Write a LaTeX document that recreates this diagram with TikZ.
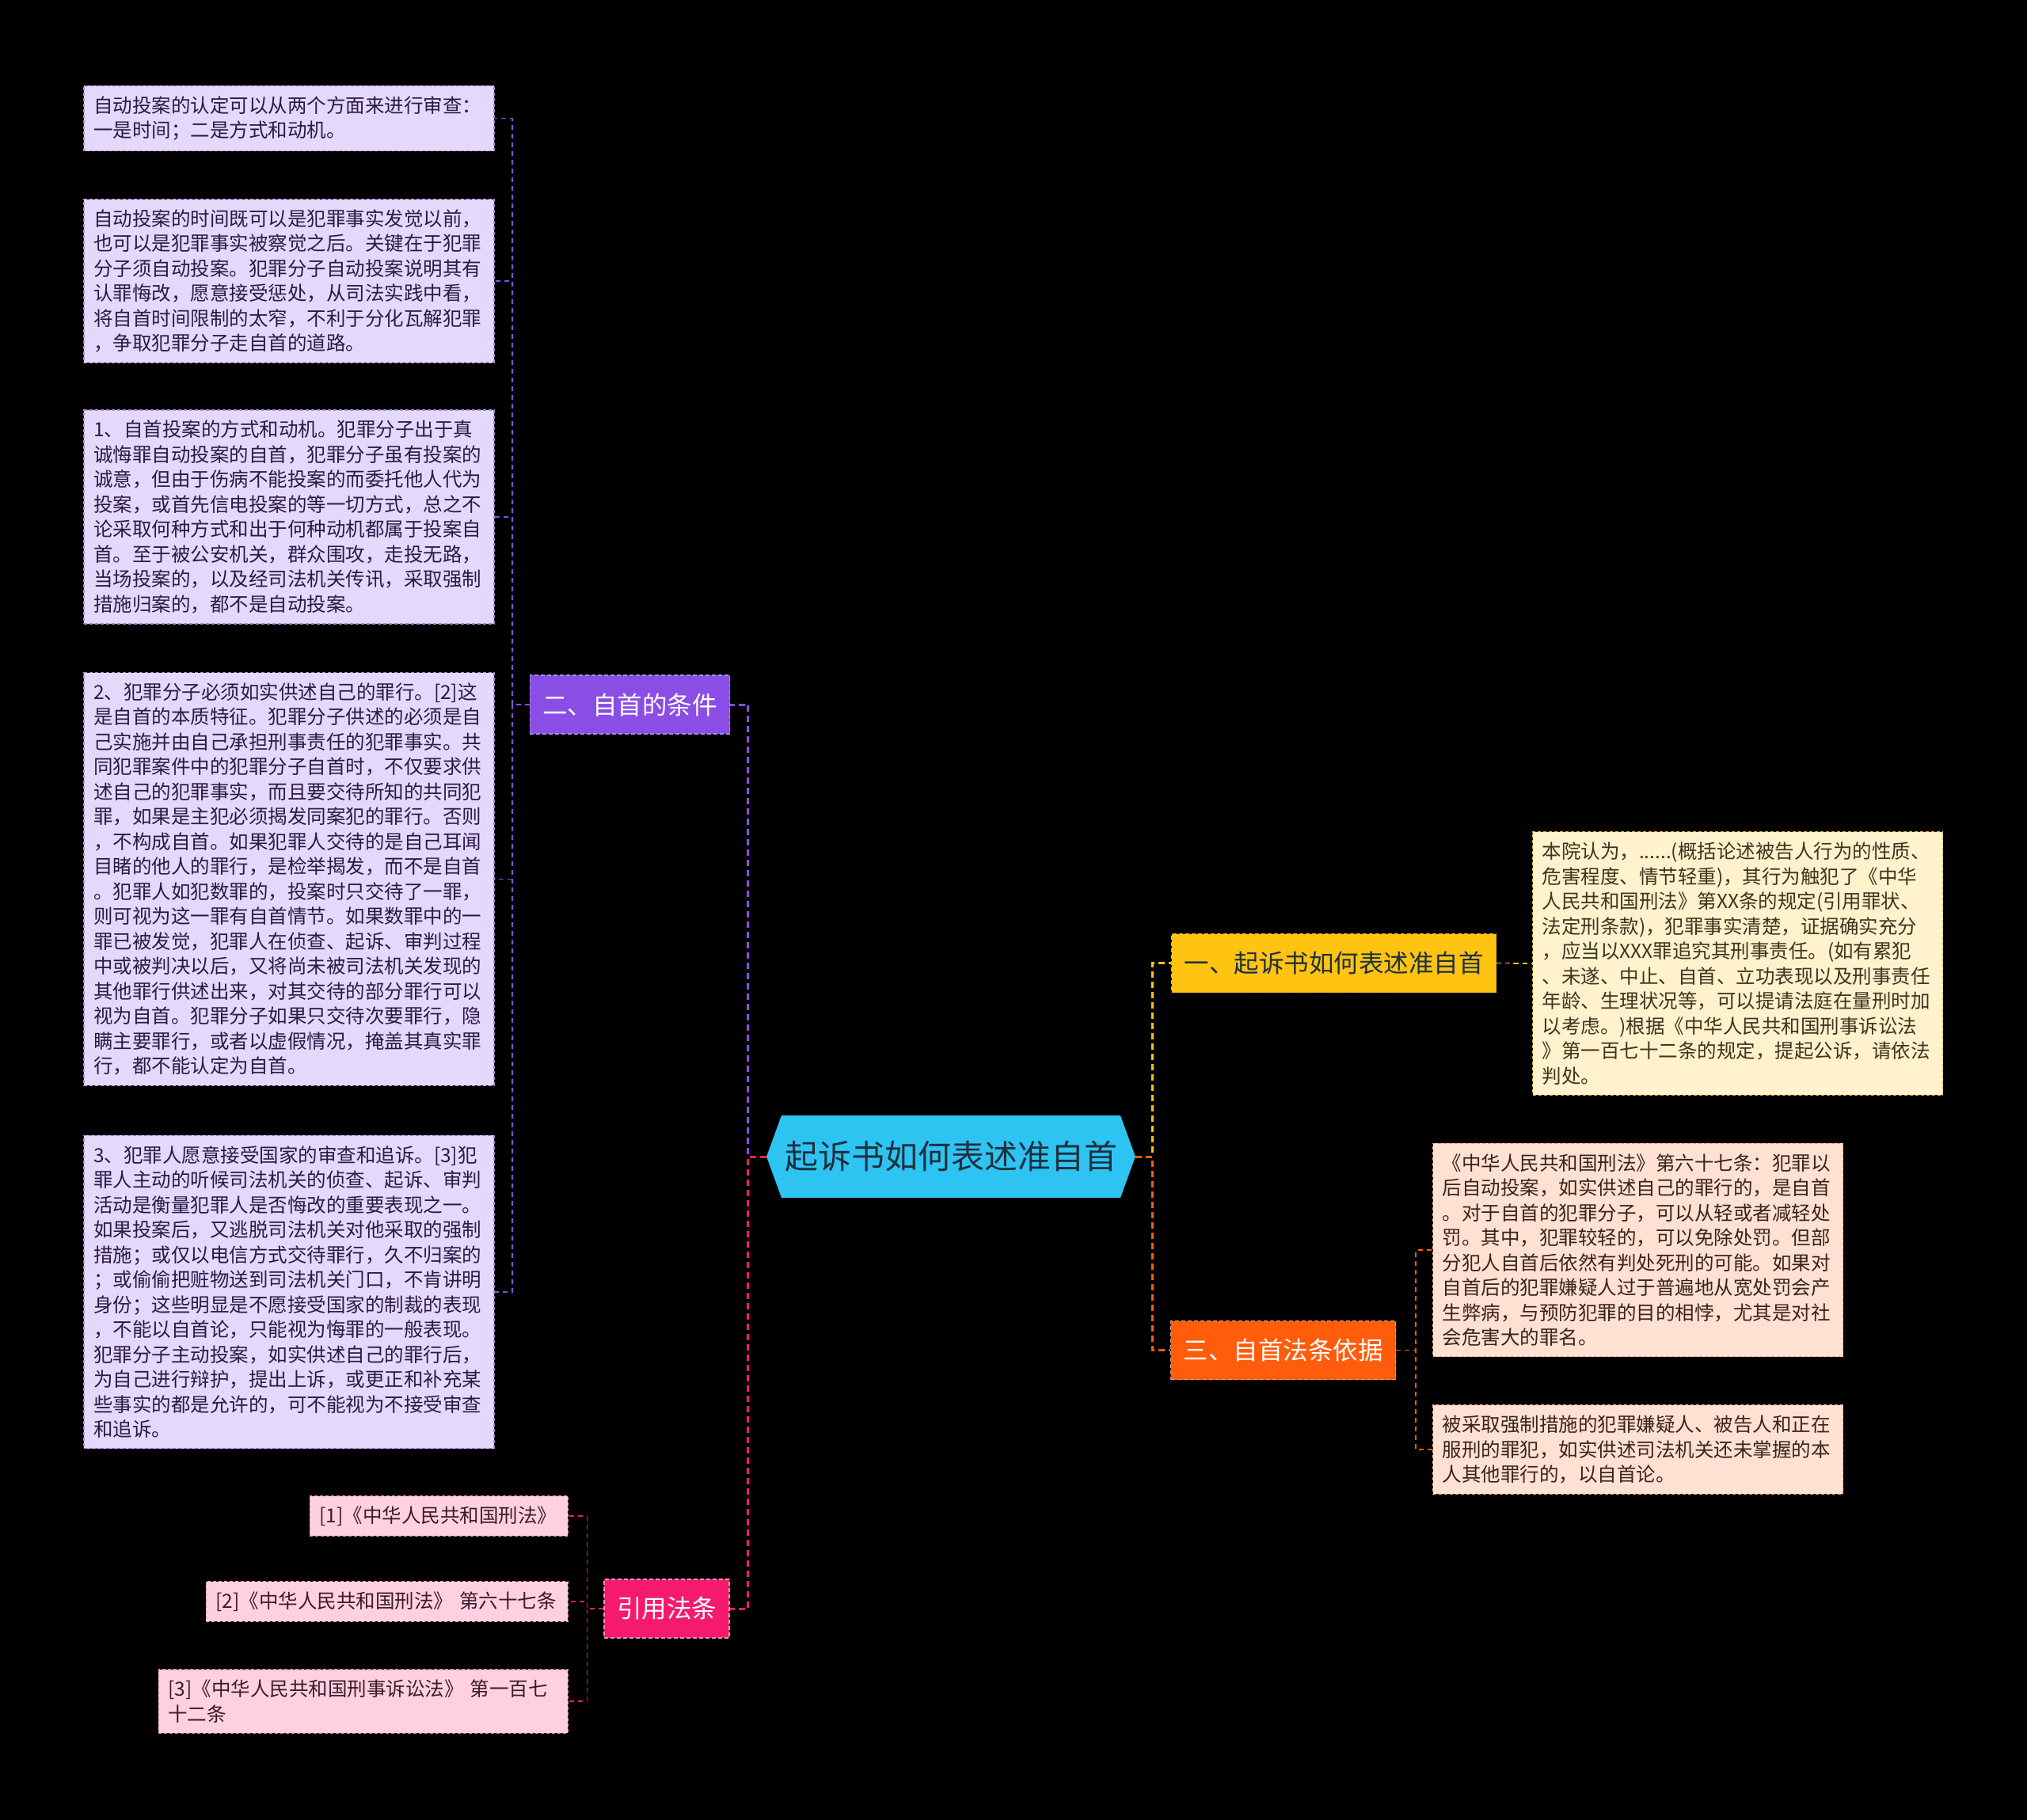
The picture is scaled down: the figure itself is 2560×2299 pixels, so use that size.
\documentclass[tikz,border=0pt]{standalone}
\usepackage{fontspec}
\setmainfont{Noto Sans CJK SC}
\usetikzlibrary{shapes.symbols}

\definecolor{rootblue}{HTML}{2EC4F2}
\definecolor{rootink}{HTML}{1E3040}
\definecolor{condpurple}{HTML}{8A4DE6}
\definecolor{condedge}{HTML}{A58BE0}
\definecolor{condleaf}{HTML}{E4D9FA}
\definecolor{condink}{HTML}{2A1A4A}
\definecolor{indictgold}{HTML}{FFC312}
\definecolor{indictedge}{HTML}{E8B440}
\definecolor{indictleaf}{HTML}{FFF2CC}
\definecolor{indictink}{HTML}{3E3420}
\definecolor{basisorange}{HTML}{FF5C0B}
\definecolor{basisedge}{HTML}{E3A487}
\definecolor{basisleaf}{HTML}{FFE1D3}
\definecolor{basisink}{HTML}{3A2418}
\definecolor{citepink}{HTML}{F51A6E}
\definecolor{citeedge}{HTML}{E695B3}
\definecolor{citeleaf}{HTML}{FFD0E2}
\definecolor{citeink}{HTML}{3C1B29}

\begin{document}
\begin{tikzpicture}[x=1pt, y=-1pt,
  leaf/.style={draw, dash pattern=on 4pt off 3pt, line width=1.2pt, text width=#1,
               align=left, inner xsep=12pt, inner ysep=13pt,
               font=\fontsize{24.5pt}{31.5pt}\selectfont},
  leaf/.default=494pt,
  branch/.style={draw, dash pattern=on 5pt off 3pt, line width=1.2pt,
                 minimum height=74pt, inner xsep=16pt,
                 font=\fontsize{31.5pt}{36pt}\selectfont},
  trunk/.style={dash pattern=on 8pt off 5pt, line width=3pt},
  twig/.style={dash pattern=on 6pt off 5pt, line width=1.8pt}
]
  \fill[black] (0,0) rectangle (2560,2299);

  % centre
  \node[signal, signal to=east and west, signal pointer angle=140, fill=rootblue,
        text=rootink, minimum height=104pt, inner xsep=4pt,
        font=\fontsize{42pt}{48pt}\selectfont] (root) at (1201,1461) {起诉书如何表述准自首};

  % branches
  \node[branch, fill=indictgold, draw=indictedge, text=rootink] (indict) at (1684.5,1216.5) {一、起诉书如何表述准自首};
  \node[branch, fill=condpurple, draw=condedge, text=white]     (cond)   at (795.5,890)     {二、自首的条件};
  \node[branch, fill=basisorange, draw=basisedge, text=white]   (basis)  at (1620.5,1705.5) {三、自首法条依据};
  \node[branch, fill=citepink, draw=citeedge, text=white]       (cite)   at (842,2032)      {引用法条};

  % 二、自首的条件
  \node[leaf, fill=condleaf, draw=condedge, text=condink] (c1) at (365,149.5) {自动投案的认定可以从两个方面来进行审查：\\一是时间；二是方式和动机。};
  \node[leaf, fill=condleaf, draw=condedge, text=condink] (c2) at (365,355) {自动投案的时间既可以是犯罪事实发觉以前，\\也可以是犯罪事实被察觉之后。关键在于犯罪\\分子须自动投案。犯罪分子自动投案说明其有\\认罪悔改，愿意接受惩处，从司法实践中看，\\将自首时间限制的太窄，不利于分化瓦解犯罪\\，争取犯罪分子走自首的道路。};
  \node[leaf, fill=condleaf, draw=condedge, text=condink] (c3) at (365,653) {1、自首投案的方式和动机。犯罪分子出于真\\诚悔罪自动投案的自首，犯罪分子虽有投案的\\诚意，但由于伤病不能投案的而委托他人代为\\投案，或首先信电投案的等一切方式，总之不\\论采取何种方式和出于何种动机都属于投案自\\首。至于被公安机关，群众围攻，走投无路，\\当场投案的，以及经司法机关传讯，采取强制\\措施归案的，都不是自动投案。};
  \node[leaf, fill=condleaf, draw=condedge, text=condink] (c4) at (365,1110.5) {2、犯罪分子必须如实供述自己的罪行。[2]这\\是自首的本质特征。犯罪分子供述的必须是自\\己实施并由自己承担刑事责任的犯罪事实。共\\同犯罪案件中的犯罪分子自首时，不仅要求供\\述自己的犯罪事实，而且要交待所知的共同犯\\罪，如果是主犯必须揭发同案犯的罪行。否则\\，不构成自首。如果犯罪人交待的是自己耳闻\\目睹的他人的罪行，是检举揭发，而不是自首\\。犯罪人如犯数罪的，投案时只交待了一罪，\\则可视为这一罪有自首情节。如果数罪中的一\\罪已被发觉，犯罪人在侦查、起诉、审判过程\\中或被判决以后，又将尚未被司法机关发现的\\其他罪行供述出来，对其交待的部分罪行可以\\视为自首。犯罪分子如果只交待次要罪行，隐\\瞒主要罪行，或者以虚假情况，掩盖其真实罪\\行，都不能认定为自首。};
  \node[leaf, fill=condleaf, draw=condedge, text=condink] (c5) at (365,1632) {3、犯罪人愿意接受国家的审查和追诉。[3]犯\\罪人主动的听候司法机关的侦查、起诉、审判\\活动是衡量犯罪人是否悔改的重要表现之一。\\如果投案后，又逃脱司法机关对他采取的强制\\措施；或仅以电信方式交待罪行，久不归案的\\；或偷偷把赃物送到司法机关门口，不肯讲明\\身份；这些明显是不愿接受国家的制裁的表现\\，不能以自首论，只能视为悔罪的一般表现。\\犯罪分子主动投案，如实供述自己的罪行后，\\为自己进行辩护，提出上诉，或更正和补充某\\些事实的都是允许的，可不能视为不接受审查\\和追诉。};

  % 引用法条
  \node[leaf=302pt, fill=citeleaf, draw=citeedge, text=citeink, anchor=east] (r1) at (718,1915) {[1]《中华人民共和国刑法》};
  \node[leaf=433pt, fill=citeleaf, draw=citeedge, text=citeink, anchor=east] (r2) at (718,2023) {[2]《中华人民共和国刑法》 第六十七条};
  \node[leaf=493pt, fill=citeleaf, draw=citeedge, text=citeink, anchor=east] (r3) at (718,2149) {[3]《中华人民共和国刑事诉讼法》 第一百七\\十二条};

  % 一、起诉书如何表述准自首
  \node[leaf, fill=indictleaf, draw=indictedge, text=indictink] (i1) at (2194.5,1217) {本院认为，......(概括论述被告人行为的性质、\\危害程度、情节轻重)，其行为触犯了《中华\\人民共和国刑法》第XX条的规定(引用罪状、\\法定刑条款)，犯罪事实清楚，证据确实充分\\，应当以XXX罪追究其刑事责任。(如有累犯\\、未遂、中止、自首、立功表现以及刑事责任\\年龄、生理状况等，可以提请法庭在量刑时加\\以考虑。)根据《中华人民共和国刑事诉讼法\\》第一百七十二条的规定，提起公诉，请依法\\判处。};

  % 三、自首法条依据
  \node[leaf, fill=basisleaf, draw=basisedge, text=basisink] (b1) at (2068.5,1579) {《中华人民共和国刑法》第六十七条：犯罪以\\后自动投案，如实供述自己的罪行的，是自首\\。对于自首的犯罪分子，可以从轻或者减轻处\\罚。其中，犯罪较轻的，可以免除处罚。但部\\分犯人自首后依然有判处死刑的可能。如果对\\自首后的犯罪嫌疑人过于普遍地从宽处罚会产\\生弊病，与预防犯罪的目的相悖，尤其是对社\\会危害大的罪名。};
  \node[leaf, fill=basisleaf, draw=basisedge, text=basisink] (b2) at (2068.5,1831) {被采取强制措施的犯罪嫌疑人、被告人和正在\\服刑的罪犯，如实供述司法机关还未掌握的本\\人其他罪行的，以自首论。};

  % connectors
  \draw[trunk, indictgold]  (root.east) -- ++(21,0) |- (indict.west);
  \draw[trunk, basisorange] (root.east) -- ++(21,0) |- (basis.west);
  \draw[trunk, condpurple]  (root.west) -- ++(-23,0) |- (cond.east);
  \draw[trunk, citepink]    (root.west) -- ++(-23,0) |- (cite.east);

  \foreach \leaf in {c1,c2,c3,c4,c5}
    \draw[twig, condpurple] (cond.west) -- ++(-22,0) |- (\leaf.east);
  \foreach \leaf in {r1,r2,r3}
    \draw[twig, citepink] (cite.west) -- ++(-21,0) |- (\leaf.east);
  \draw[twig, indictgold] (indict.east) -- ++(22,0) |- (i1.west);
  \foreach \leaf in {b1,b2}
    \draw[twig, basisorange] (basis.east) -- ++(25,0) |- (\leaf.west);
\end{tikzpicture}
\end{document}
